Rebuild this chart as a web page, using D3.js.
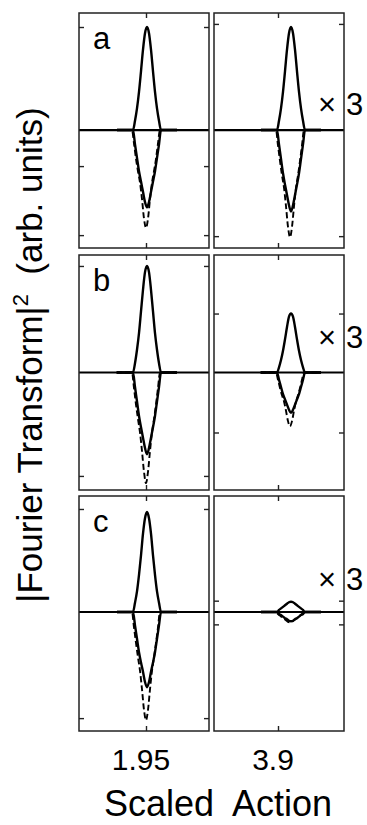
<!DOCTYPE html>
<html>
<head>
<meta charset="utf-8">
<script src="https://cdn.jsdelivr.net/npm/d3@7"></script>
<style>
  body { margin: 0; background: #fff; }
  svg { display: block; font-family: "Liberation Sans", Arial, sans-serif; }
</style>
</head>
<body>
<svg id="chart" width="367" height="825"></svg>
<script>
// offsets from each peak centre (scaled action units), shared by all curves
const offsets = [-0.06, -0.028, -0.024, -0.02, -0.016, -0.012, -0.008, -0.004, 0,
                 0.004, 0.008, 0.012, 0.016, 0.02, 0.024, 0.028, 0.06];
const peakCentres = [1.952, 3.926];
const dashShift = -0.002;

const xTickValues = [1.95, 3.9];
const xTickLabels = ["1.95", "3.9"];
const xDomains = [[1.816, 2.076], [3.772, 4.032]];
const panelLetters = ["a", "b", "c"];
const magnifyText = ["×", "3"];

// row a
const upA1    = [0, 0, 0.09, 0.21, 0.37, 0.57, 0.78, 0.94, 1.00, 0.94, 0.78, 0.57, 0.37, 0.21, 0.09, 0, 0];
const solidA1 = [0, 0, -0.14, -0.27, -0.40, -0.50, -0.60, -0.70, -0.75, -0.70, -0.60, -0.50, -0.40, -0.27, -0.14, 0, 0];
const dashA1  = [0, 0, -0.13, -0.28, -0.40, -0.51, -0.67, -0.86, -0.95, -0.86, -0.67, -0.51, -0.40, -0.28, -0.13, 0, 0];
const upA2    = [0, 0, 0.09, 0.21, 0.37, 0.57, 0.78, 0.94, 1.00, 0.94, 0.78, 0.57, 0.37, 0.21, 0.09, 0, 0];
const solidA2 = [0, 0, -0.14, -0.28, -0.42, -0.53, -0.63, -0.73, -0.79, -0.73, -0.63, -0.53, -0.42, -0.28, -0.14, 0, 0];
const dashA2  = [0, 0, -0.15, -0.30, -0.44, -0.56, -0.74, -0.94, -1.04, -0.94, -0.74, -0.56, -0.44, -0.30, -0.15, 0, 0];

// row b
const upB1    = [0, 0, 0.09, 0.22, 0.38, 0.59, 0.80, 0.97, 1.03, 0.97, 0.80, 0.59, 0.38, 0.22, 0.09, 0, 0];
const solidB1 = [0, 0, -0.14, -0.28, -0.42, -0.53, -0.63, -0.73, -0.79, -0.73, -0.63, -0.53, -0.42, -0.28, -0.14, 0, 0];
const dashB1  = [0, 0, -0.15, -0.31, -0.45, -0.58, -0.76, -0.96, -1.07, -0.96, -0.76, -0.58, -0.45, -0.31, -0.15, 0, 0];
const upB2    = [0, 0, 0.05, 0.12, 0.21, 0.32, 0.44, 0.54, 0.57, 0.54, 0.44, 0.32, 0.21, 0.12, 0.05, 0, 0];
const solidB2 = [0, 0, -0.07, -0.14, -0.21, -0.26, -0.31, -0.36, -0.39, -0.36, -0.31, -0.26, -0.21, -0.14, -0.07, 0, 0];
const dashB2  = [0, 0, -0.07, -0.15, -0.22, -0.28, -0.37, -0.47, -0.52, -0.47, -0.37, -0.28, -0.22, -0.15, -0.07, 0, 0];

// row c
const upC1    = [0, 0, 0.09, 0.20, 0.36, 0.55, 0.76, 0.91, 0.97, 0.91, 0.76, 0.55, 0.36, 0.20, 0.09, 0, 0];
const solidC1 = [0, 0, -0.13, -0.26, -0.39, -0.49, -0.58, -0.68, -0.73, -0.68, -0.58, -0.49, -0.39, -0.26, -0.13, 0, 0];
const dashC1  = [0, 0, -0.15, -0.30, -0.44, -0.57, -0.75, -0.95, -1.05, -0.95, -0.75, -0.57, -0.44, -0.30, -0.15, 0, 0];
const upC2    = [0, 0, 0.02, 0.035, 0.05, 0.065, 0.08, 0.095, 0.10, 0.095, 0.08, 0.065, 0.05, 0.035, 0.02, 0, 0];
const solidC2 = [0, 0, -0.02, -0.03, -0.045, -0.06, -0.07, -0.085, -0.09, -0.085, -0.07, -0.06, -0.045, -0.03, -0.02, 0, 0];
const dashC2  = [0, 0, -0.02, -0.035, -0.05, -0.065, -0.08, -0.095, -0.10, -0.095, -0.08, -0.065, -0.05, -0.035, -0.02, 0, 0];

// y ticks per panel, arb. units
const yTicksA1 = [1.0, -0.35, -1.02];
const yTicksA2 = [1.03, -1.03];
const yTicksB1 = [1.03, -1.0];
const yTicksB2 = [0.57, -0.58];
const yTicksC1 = [1.0, -1.03];
const yTicksC2 = [0.11, -0.12];

const yDomains = [[-1.145, 1.136], [-1.136, 1.136], [-1.155, 1.126]];

// layout
const COL_X = [79, 214], COL_W = 130;
const ROW_Y = [13, 255, 496], ROW_H = 235;
const LETTER_DY = 36;
const MAG_DY = [102, 93, 94];

const panels = [
    [{ up: upA1, solid: solidA1, dash: dashA1, ticks: yTicksA1 },
     { up: upA2, solid: solidA2, dash: dashA2, ticks: yTicksA2 }],
    [{ up: upB1, solid: solidB1, dash: dashB1, ticks: yTicksB1 },
     { up: upB2, solid: solidB2, dash: dashB2, ticks: yTicksB2 }],
    [{ up: upC1, solid: solidC1, dash: dashC1, ticks: yTicksC1 },
     { up: upC2, solid: solidC2, dash: dashC2, ticks: yTicksC2 }]
];

const svg = d3.select("#chart");

const xScales = COL_X.map((x0, c) =>
    d3.scaleLinear().domain(xDomains[c]).range([x0, x0 + COL_W]));

panels.forEach((row, r) => {
    const y = d3.scaleLinear().domain(yDomains[r]).range([ROW_Y[r] + ROW_H, ROW_Y[r]]);

    row.forEach((p, c) => {
        const x = xScales[c];
        const g = svg.append("g").attr("class", "panel");
        const centre = peakCentres[c];

        // zero line across the whole panel
        g.append("line")
            .attr("x1", x.range()[0]).attr("x2", x.range()[1])
            .attr("y1", y(0)).attr("y2", y(0))
            .attr("stroke", "#000").attr("stroke-width", 2.2);

        const line = (shift) => d3.line()
            .x((d, i) => x(centre + shift + offsets[i]))
            .y((d) => y(d))
            .curve(d3.curveMonotoneX);

        g.append("path").attr("d", line(dashShift)(p.dash))
            .attr("fill", "none").attr("stroke", "#000")
            .attr("stroke-width", 1.9).attr("stroke-dasharray", "6,3");
        g.append("path").attr("d", line(0)(p.solid))
            .attr("fill", "none").attr("stroke", "#000").attr("stroke-width", 2.4);
        g.append("path").attr("d", line(0)(p.up))
            .attr("fill", "none").attr("stroke", "#000").attr("stroke-width", 2.4);

        // frame
        g.append("rect")
            .attr("x", x.range()[0]).attr("y", ROW_Y[r])
            .attr("width", COL_W).attr("height", ROW_H)
            .attr("fill", "none").attr("stroke", "#222").attr("stroke-width", 1.5);

        // inward ticks on all four sides
        const axes = [
            [d3.axisLeft(y).tickValues(p.ticks), `translate(${x.range()[0]},0)`],
            [d3.axisRight(y).tickValues(p.ticks), `translate(${x.range()[1]},0)`],
            [d3.axisTop(x).tickValues([xTickValues[c]]), `translate(0,${ROW_Y[r]})`],
            [d3.axisBottom(x).tickValues([xTickValues[c]]), `translate(0,${ROW_Y[r] + ROW_H})`]
        ];
        axes.forEach(([ax, tr]) => {
            const a = g.append("g").attr("transform", tr)
                .call(ax.tickSize(-5).tickFormat(""));
            a.select(".domain").remove();
            a.selectAll("line").attr("stroke", "#222").attr("stroke-width", 1.4);
        });

        if (c === 0) {
            g.append("text")
                .attr("x", x.range()[0] + 14).attr("y", ROW_Y[r] + LETTER_DY)
                .attr("font-size", 31).text(panelLetters[r]);
        } else {
            g.append("text")
                .attr("x", x.range()[1] - 26).attr("y", ROW_Y[r] + MAG_DY[r])
                .attr("font-size", 31).attr("font-weight", 300).text(magnifyText[0]);
            g.append("text")
                .attr("x", x.range()[1] + 2).attr("y", ROW_Y[r] + MAG_DY[r])
                .attr("font-size", 31).text(magnifyText[1]);
        }
    });
});

// x tick labels
xTickValues.forEach((v, c) => {
    svg.append("text")
        .attr("x", xScales[c](v) - 5).attr("y", 770)
        .attr("text-anchor", "middle").attr("font-size", 30)
        .text(xTickLabels[c]);
});

svg.append("text")
    .attr("x", 218).attr("y", 816)
    .attr("text-anchor", "middle").attr("font-size", 36)
    .style("white-space", "pre")
    .text("Scaled  Action");

const ylab = svg.append("text")
    .attr("transform", "translate(42,355) rotate(-90)")
    .attr("text-anchor", "middle").attr("font-size", 35)
    .style("white-space", "pre");
ylab.append("tspan").text("|Fourier Transform|");
ylab.append("tspan").attr("font-size", 22).attr("dy", -14).text("2");
ylab.append("tspan").attr("dy", 14).text("  (arb. units)");
</script>
</body>
</html>
